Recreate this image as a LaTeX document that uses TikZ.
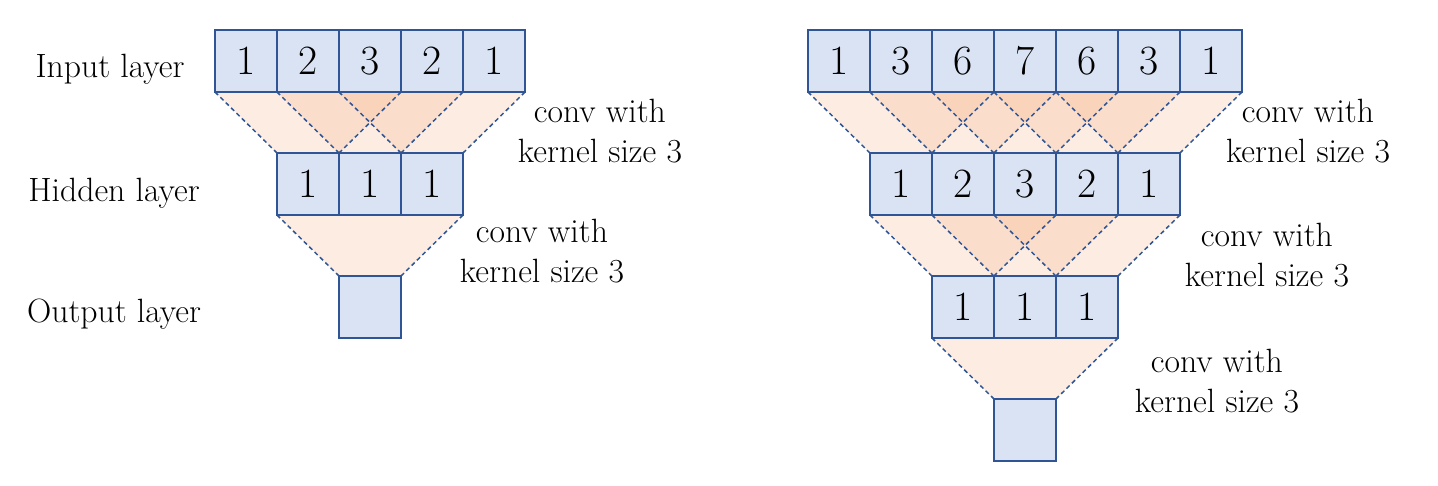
\documentclass[tikz,border=0pt]{standalone}
\usepackage{xcolor}
\definecolor{CellFill}{HTML}{DAE3F3}
\definecolor{CellLine}{HTML}{2F5597}
\definecolor{FieldFill}{HTML}{F4B183}
\usepackage{tikz}
\usetikzlibrary{backgrounds}

\begin{document}
\begin{tikzpicture}[x=1.1cm, y=1.1cm,
  cell/.style={draw=CellLine, line width=1pt, fill=CellFill, minimum size=1.1cm,
    inner sep=0pt, outer sep=0pt, font=\fontsize{21}{25}\selectfont},
  field/.style={fill=FieldFill, fill opacity=0.24},
  edge/.style={draw=CellLine, line width=0.75pt, dash pattern=on 2.2pt off 1.6pt},
  lbl/.style={font=\fontsize{17}{20.2}\selectfont, align=center}]
\useasboundingbox (0,0) rectangle (23.194,-7.823);

% Left network: input, hidden, output
\foreach \v [count=\i] in {1,2,3,2,1}
  \node[cell] (li\i) at ({3.468+\i-0.5},-0.984) {\v};
\foreach \v [count=\i] in {1,1,1}
  \node[cell] (lh\i) at ({4.468+\i-0.5},-2.968) {\v};
\node[cell] (lo) at (5.968,-4.952) {};

% Receptive fields (left)
\begin{scope}[on background layer]
\foreach \j [evaluate=\j as \k using int(\j+2)] in {1,2,3}
  \fill[field] (li\j.south west) -- (li\k.south east) -- (lh\j.north east) -- (lh\j.north west) -- cycle;
\fill[field] (lh1.south west) -- (lh3.south east) -- (lo.north east) -- (lo.north west) -- cycle;
\end{scope}
\foreach \j [evaluate=\j as \k using int(\j+2)] in {1,2,3}
  \draw[edge] (li\j.south west) -- (lh\j.north west) (li\k.south east) -- (lh\j.north east);
\draw[edge] (lh1.south west) -- (lo.north west) (lh3.south east) -- (lo.north east);

% Layer names
\node[lbl, anchor=base] (inlbl) at (1.774,-1.242) {Input layer};
\node[lbl, anchor=base] (hidlbl) at (1.839,-3.258) {Hidden layer};
\node[lbl, anchor=base] (outlbl) at (1.839,-5.194) {Output layer};

\node[lbl] (lconv1) at (9.677,-2.121) {conv with\\kernel size 3};
\node[lbl] (lconv2) at (8.742,-4.056) {conv with\\kernel size 3};

% Right network: input, two hidden, output
\foreach \v [count=\i] in {1,3,6,7,6,3,1}
  \node[cell] (ri\i) at ({13.032+\i-0.5},-0.984) {\v};
\foreach \v [count=\i] in {1,2,3,2,1}
  \node[cell] (rh\i) at ({14.032+\i-0.5},-2.968) {\v};
\foreach \v [count=\i] in {1,1,1}
  \node[cell] (rk\i) at ({15.032+\i-0.5},-4.952) {\v};
\node[cell] (ro) at (16.532,-6.935) {};

% Receptive fields (right)
\begin{scope}[on background layer]
\foreach \j [evaluate=\j as \k using int(\j+2)] in {1,...,5}
  \fill[field] (ri\j.south west) -- (ri\k.south east) -- (rh\j.north east) -- (rh\j.north west) -- cycle;
\foreach \j [evaluate=\j as \k using int(\j+2)] in {1,2,3}
  \fill[field] (rh\j.south west) -- (rh\k.south east) -- (rk\j.north east) -- (rk\j.north west) -- cycle;
\fill[field] (rk1.south west) -- (rk3.south east) -- (ro.north east) -- (ro.north west) -- cycle;
\end{scope}
\foreach \j [evaluate=\j as \k using int(\j+2)] in {1,...,5}
  \draw[edge] (ri\j.south west) -- (rh\j.north west) (ri\k.south east) -- (rh\j.north east);
\foreach \j [evaluate=\j as \k using int(\j+2)] in {1,2,3}
  \draw[edge] (rh\j.south west) -- (rk\j.north west) (rh\k.south east) -- (rk\j.north east);
\draw[edge] (rk1.south west) -- (ro.north west) (rk3.south east) -- (ro.north east);

\node[lbl] (rconv1) at (21.097,-2.121) {conv with\\kernel size 3};
\node[lbl] (rconv2) at (20.435,-4.121) {conv with\\kernel size 3};
\node[lbl] (rconv3) at (19.629,-6.153) {conv with\\kernel size 3};
\end{tikzpicture}
\end{document}
